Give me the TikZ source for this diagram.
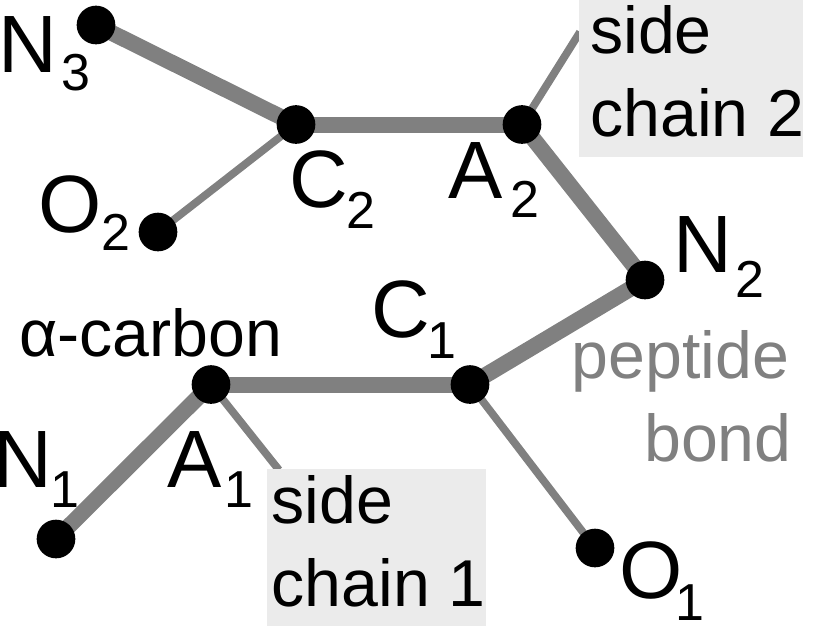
\documentclass[tikz,border=0pt]{standalone}
\usepackage{fontspec}
\setmainfont{Liberation Sans}
\definecolor{bondc}{HTML}{808080}
\definecolor{boxc}{HTML}{EBEBEB}
\pgfdeclarelayer{bonds}
\pgfsetlayers{bonds,main}
\tikzset{
  atom/.style={circle,fill=black,inner sep=0pt,minimum size=29pt},
  thick bond/.style={draw=bondc,line width=12pt},
  thin bond/.style={draw=bondc,line width=5.8pt},
  lab/.style={font=\fontsize{61pt}{61pt}\selectfont,inner sep=0pt,anchor=base},
  sublab/.style={font=\fontsize{39pt}{39pt}\selectfont,inner sep=0pt,anchor=base},
  txt/.style={font=\fontsize{49.7pt}{49.7pt}\selectfont,inner sep=0pt,anchor=base west},
  greytxt/.style={font=\fontsize{49.7pt}{49.7pt}\selectfont,inner sep=0pt,anchor=base,text=bondc},
  sidebox/.style={fill=boxc,inner sep=0pt,anchor=north west}
}
\begin{document}
\begin{tikzpicture}[x=0.75pt,y=-0.75pt]
\useasboundingbox (0,0) rectangle (817,626);
\node[sidebox,minimum width=168pt,minimum height=117.75pt] (box2) at (579,0) {};
\node[sidebox,minimum width=164.25pt,minimum height=117.75pt] (box1) at (267,469) {};
\coordinate (s2) at (580,32);
\coordinate (s1) at (279,470);
\node[atom] (n3) at (96,25) {};
\node[atom] (c2) at (296,124.5) {};
\node[atom] (a2) at (522,124.5) {};
\node[atom] (o2) at (158,232) {};
\node[atom] (n2) at (645,280) {};
\node[atom] (a1) at (211,384.5) {};
\node[atom] (c1) at (470,384.5) {};
\node[atom] (n1) at (56,539) {};
\node[atom] (o1) at (595,548) {};
\begin{pgfonlayer}{bonds}
\draw[thick bond] (n3.center) -- (c2.center);
\draw[thick bond] (c2.center) -- (a2.center);
\draw[thick bond] (a2.center) -- (n2.center);
\draw[thick bond] (n2.center) -- (c1.center);
\draw[thick bond] (c1.center) -- (a1.center);
\draw[thick bond] (a1.center) -- (n1.center);
\draw[thin bond] (c2.center) -- (o2.center);
\draw[thin bond] (c1.center) -- (o1.center);
\draw[thin bond] (a1.center) -- (s1);
\draw[thin bond] (a2.center) -- (s2);
\end{pgfonlayer}
\node[lab] (tn3) at (28,72) {N};
\node[sublab] (tn3s) at (76,90) {3};
\node[lab] (to2) at (70,232) {O};
\node[sublab] (to2s) at (116,250) {2};
\node[lab] (tc2) at (319,207) {C};
\node[sublab] (tc2s) at (361,228) {2};
\node[lab] (ta2) at (476,198) {A};
\node[sublab] (ta2s) at (525,217) {2};
\node[lab] (tn2) at (703,272) {N};
\node[sublab] (tn2s) at (750,297) {2};
\node[lab] (tc1) at (401,337) {C};
\node[sublab] (tc1s) at (442,358) {1};
\node[lab] (tn1) at (23,487) {N};
\node[sublab] (tn1s) at (65,507) {1};
\node[lab] (ta1) at (195,487) {A};
\node[sublab] (ta1s) at (239,507) {1};
\node[lab] (to1) at (651,598) {O};
\node[sublab] (to1s) at (690,620) {1};
\node[txt] (alpha) at (19,356) {α-carbon};
\node[txt] (s2a) at (590,53) {side};
\node[txt] (s2b) at (590,136) {chain 2};
\node[txt] (s1a) at (271.5,523) {side};
\node[txt] (s1b) at (271.5,606) {chain 1};
\node[greytxt] (pa) at (680.5,378) {peptide};
\node[greytxt] (pb) at (718,461) {bond};
\end{tikzpicture}
\end{document}
